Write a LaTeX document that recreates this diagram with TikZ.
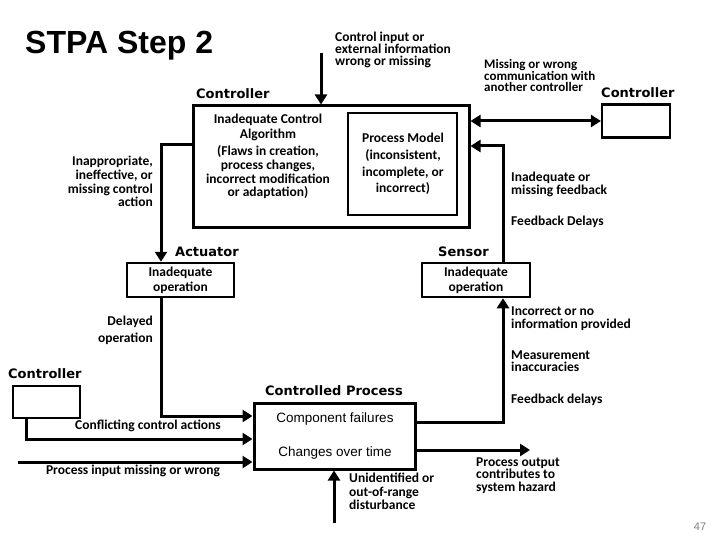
\documentclass[tikz,border=0pt]{standalone}
\usepackage{fontspec}
\setmainfont{Carlito}
\newfontfamily\hdfont{DejaVu Sans}
\newfontfamily\arfont{Liberation Sans}
\usetikzlibrary{arrows.meta}
\begin{document}
\begin{tikzpicture}[x=1pt,y=-1pt,
  txt/.style={font=\bfseries\fontsize{13.5}{#1}\selectfont, inner sep=0},
  txt/.default=13.5,
  head/.style={font=\hdfont\bfseries\fontsize{13}{15}\selectfont, inner sep=0, anchor=west},
  plain/.style={font=\arfont\fontsize{13.5}{15}\selectfont, inner sep=0},
  conn/.style={line width=3pt, miter limit=10},
  arr/.style={conn, -{Triangle[length=10pt,width=12pt]}},
  darr/.style={conn, {Triangle[length=10pt,width=12pt]}-{Triangle[length=10pt,width=12pt]}}
]
\useasboundingbox[fill=white] (0,0) rectangle (720,540);

% title
\node[font=\arfont\bfseries\fontsize{32}{34}\selectfont, anchor=west, inner sep=0] (title) at (25,46) {STPA Step 2};

% boxes
\node[draw, line width=3pt, minimum width=276pt, minimum height=122pt, inner sep=0] (ctrl) at (331,167) {};
\node[draw, line width=2pt, minimum width=109pt, minimum height=102pt, inner sep=0] (pm) at (402.5,164) {};
\node[draw, line width=2.2pt, minimum width=68pt, minimum height=33pt, inner sep=0] (rctrl) at (636,121) {};
\node[draw, line width=2.5pt, minimum width=107pt, minimum height=34pt, inner sep=0] (act) at (180.5,280) {};
\node[draw, line width=2.5pt, minimum width=108pt, minimum height=34pt, inner sep=0] (sen) at (476,280) {};
\node[draw, line width=2.2pt, minimum width=67pt, minimum height=32pt, inner sep=0] (lctrl) at (46.5,402) {};
\node[draw, line width=3pt, minimum width=161pt, minimum height=66pt, inner sep=0] (cp) at (334.5,436) {};

% headings
\node[head] (hctrl) at (196,94) {Controller};
\node[head] (hrctrl) at (601,93) {Controller};
\node[head] (hact) at (175,252) {Actuator};
\node[head] (hsen) at (438,252) {Sensor};
\node[head] (hlctrl) at (8,374) {Controller};
\node[head] (hcp) at (265,391) {Controlled Process};

% texts in boxes
\node[txt=15, align=center] (ica) at (268,127.5) {Inadequate Control\\Algorithm};
\node[txt=13.7, align=center] (icb) at (268,172.5) {(Flaws in creation,\\process changes,\\incorrect modification\\or adaptation)};
\node[txt=16.7, align=center] (pmt) at (403,164) {Process Model\\(inconsistent,\\incomplete, or\\incorrect)};
\node[txt=15, align=center] (actt) at (180.5,280.5) {Inadequate\\operation};
\node[txt=15, align=center] (sent) at (476,280.5) {Inadequate\\operation};
\node[plain] (cf) at (335,419) {Component failures};
\node[plain] (cot) at (335,453) {Changes over time};

% labels
\node[txt=12, align=left, anchor=west] (cinl) at (335,50) {Control input or\\external information\\wrong or missing};
\node[font=\bfseries\fontsize{13}{11.5}\selectfont, inner sep=0, align=left, anchor=west] (comm) at (484,75.5) {Missing or wrong\\communication with\\another controller};
\node[txt=13.7, align=right, anchor=east] (inapp) at (153,181.5) {Inappropriate,\\ineffective, or\\missing control\\action};
\node[txt=13, align=left, anchor=west] (imf) at (511,184.5) {Inadequate or\\missing feedback};
\node[txt, anchor=west] (fbd) at (511,222) {Feedback Delays};
\node[txt=17, align=right, anchor=east] (delop) at (153,330.5) {Delayed\\operation};
\node[txt=13, align=left, anchor=west] (incor) at (511,318.5) {Incorrect or no\\information provided};
\node[txt=12.5, align=left, anchor=west] (meas) at (511,361) {Measurement\\inaccuracies};
\node[txt, anchor=west] (fbd2) at (511,400) {Feedback delays};
\node[txt] (confl) at (148,426) {Conflicting control actions};
\node[txt] (pinl) at (133,471) {Process input missing or wrong};
\node[txt=13.5, align=left, anchor=west] (unid) at (349,491.5) {Unidentified or\\out-of-range\\disturbance};
\node[txt=12.5, align=left, anchor=west] (pout) at (476,475.5) {Process output\\contributes to\\system hazard};
\node[font=\arfont\fontsize{11}{12}\selectfont, text=gray, inner sep=0] (pg) at (700,527) {47};

% coordinates
\coordinate (cin) at (321,53);
\coordinate (fb) at (503,146);
\coordinate (ca) at (161,145);
\coordinate (ao) at (161,416);
\coordinate (lc) at (26,439);
\coordinate (pin) at (18,462);
\coordinate (dist) at (334,523);
\coordinate (sf) at (503,422);
\coordinate (po) at (530,450);

% connectors
\draw[arr] (cin) -- (cin |- ctrl.north);
\draw[darr] (rctrl.west -| ctrl.east) -- (rctrl.west);
\draw[arr] (sen.north -| fb) -- (fb) -- (fb -| ctrl.east);
\draw[arr] (ca -| ctrl.west) -- (ca) -- (ca |- act.north);
\draw[arr] (ao |- act.south) -- (ao) -- (ao -| cp.west);
\draw[arr] (lc |- lctrl.south) -- (lc) -- (lc -| cp.west);
\draw[arr] (pin) -- (pin -| cp.west);
\draw[arr] (dist) -- (dist |- cp.south);
\draw[arr] (sf -| cp.east) -- (sf) -- (sf |- sen.south);
\draw[arr] (po -| cp.east) -- (po);
\end{tikzpicture}
\end{document}
